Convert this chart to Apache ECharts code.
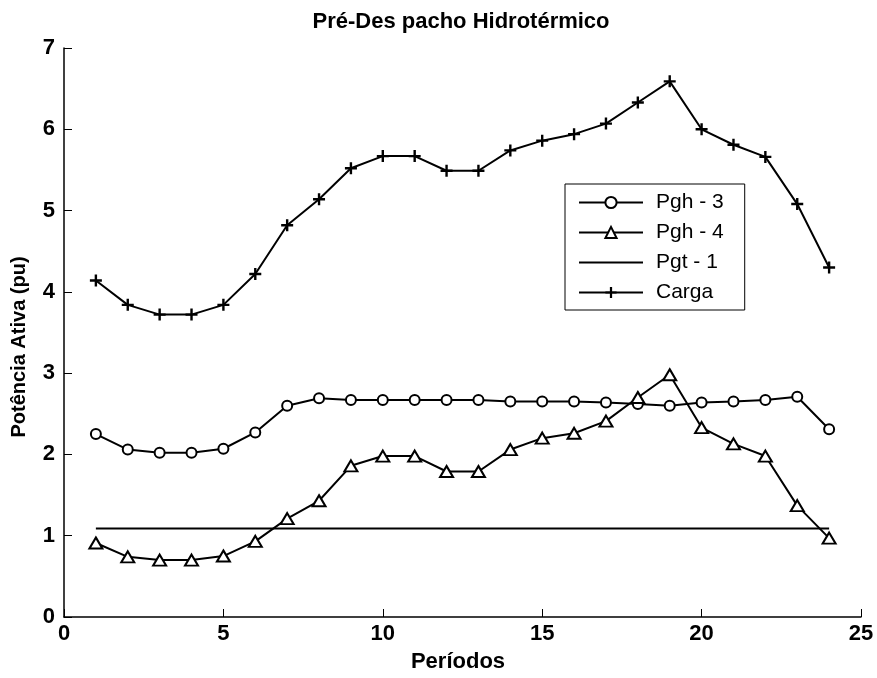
<!DOCTYPE html>
<html>
<head>
<meta charset="utf-8">
<script src="https://cdn.jsdelivr.net/npm/echarts@6/dist/echarts.min.js"></script>
<style>
  html, body { margin: 0; padding: 0; background: #fff; }
  #chart { width: 877px; height: 678px; }
</style>
</head>
<body>
<div id="chart"></div>
<script>
// Hourly dispatch periods
const periods = [1, 2, 3, 4, 5, 6, 7, 8, 9, 10, 11, 12, 13, 14, 15, 16, 17, 18, 19, 20, 21, 22, 23, 24];

// Active power per period (pu)
const pgh3 = [2.25, 2.06, 2.02, 2.02, 2.07, 2.27, 2.60, 2.69, 2.67, 2.67, 2.67, 2.67, 2.67, 2.65, 2.65, 2.65, 2.64, 2.62, 2.60, 2.64, 2.65, 2.67, 2.71, 2.31];
const pgh4 = [0.91, 0.74, 0.70, 0.70, 0.75, 0.93, 1.21, 1.43, 1.86, 1.98, 1.98, 1.79, 1.79, 2.06, 2.20, 2.26, 2.41, 2.70, 2.98, 2.33, 2.13, 1.98, 1.37, 0.97];
const pgt1 = [1.09, 1.09, 1.09, 1.09, 1.09, 1.09, 1.09, 1.09, 1.09, 1.09, 1.09, 1.09, 1.09, 1.09, 1.09, 1.09, 1.09, 1.09, 1.09, 1.09, 1.09, 1.09, 1.09, 1.09];
const carga = [4.14, 3.84, 3.72, 3.72, 3.84, 4.22, 4.82, 5.14, 5.52, 5.67, 5.67, 5.49, 5.49, 5.74, 5.86, 5.94, 6.07, 6.33, 6.59, 6.00, 5.81, 5.66, 5.08, 4.30];

const seriesNames = ['Pgh - 3', 'Pgh - 4', 'Pgt - 1', 'Carga'];
const titleText = 'Pré-Des pacho Hidrotérmico';
const xTitle = 'Períodos';
const yTitle = 'Potência Ativa (pu)';

const pairs = vals => periods.map((p, i) => [p, vals[i]]);

// filled cross used as the "+" marker
const plusPath = 'path://M4,0h2v4h4v2h-4v4h-2v-4h-4v-2h4z';
// plain line sample for the legend entry without markers
const linePath = 'path://M0,0h64v2h-64z';

const sans = "'Liberation Sans', Arial, sans-serif";

const chart = echarts.init(document.getElementById('chart'), null, { renderer: 'canvas' });

const lineBase = {
  type: 'line',
  showAllSymbol: true,
  lineStyle: { color: '#000', width: 2 },
  emphasis: { disabled: true },
  animation: false
};

chart.setOption({
  backgroundColor: '#fff',
  animation: false,
  grid: { left: 64, right: 16, top: 48, bottom: 61, containLabel: false },
  xAxis: {
    type: 'value',
    min: 0, max: 25, interval: 5,
    axisLine: { show: true, lineStyle: { color: '#000', width: 1.5 } },
    axisTick: { show: true, inside: true, length: 8, lineStyle: { color: '#000', width: 1 } },
    axisLabel: { color: '#000', fontFamily: sans, fontWeight: 'bold', fontSize: 22, margin: 6 },
    splitLine: { show: false }
  },
  yAxis: {
    type: 'value',
    min: 0, max: 7, interval: 1,
    axisLine: { show: true, lineStyle: { color: '#000', width: 1.5 } },
    axisTick: { show: true, inside: true, length: 8, lineStyle: { color: '#000', width: 1 } },
    axisLabel: { color: '#000', fontFamily: sans, fontWeight: 'bold', fontSize: 22, margin: 9 },
    splitLine: { show: false }
  },
  legend: {
    orient: 'vertical',
    left: 565, top: 184,
    padding: [8, 21, 7, 13],
    itemWidth: 64, itemHeight: 14, itemGap: 9,
    backgroundColor: '#fff',
    borderColor: '#000', borderWidth: 1,
    textStyle: { color: '#000', fontFamily: sans, fontSize: 21, lineHeight: 21, padding: [0, 0, 0, 8] },
    data: [
      { name: seriesNames[0] },
      { name: seriesNames[1] },
      { name: seriesNames[2], icon: linePath },
      { name: seriesNames[3] }
    ]
  },
  graphic: [
    { type: 'text', x: 461, y: 22, style: { text: titleText, align: 'center', verticalAlign: 'middle', font: "bold 22px 'Liberation Sans', Arial, sans-serif", fill: '#000' } },
    { type: 'text', x: 458, y: 662, style: { text: xTitle, align: 'center', verticalAlign: 'middle', font: "bold 22px 'Liberation Sans', Arial, sans-serif", fill: '#000' } },
    { type: 'text', x: 19, y: 347, rotation: Math.PI / 2, style: { text: yTitle, align: 'center', verticalAlign: 'middle', font: "bold 20px 'Liberation Sans', Arial, sans-serif", fill: '#000' } }
  ],
  series: [
    Object.assign({}, lineBase, {
      name: seriesNames[0],
      data: pairs(pgh3),
      symbol: 'emptyCircle', symbolSize: 10,
      itemStyle: { color: '#000', borderColor: '#000', borderWidth: 1.5 }
    }),
    Object.assign({}, lineBase, {
      name: seriesNames[1],
      data: pairs(pgh4),
      symbol: 'emptyTriangle', symbolSize: [13, 11],
      itemStyle: { color: '#000', borderColor: '#000', borderWidth: 1.5 }
    }),
    Object.assign({}, lineBase, {
      name: seriesNames[2],
      data: pairs(pgt1),
      symbol: 'none',
      itemStyle: { color: '#000' }
    }),
    Object.assign({}, lineBase, {
      name: seriesNames[3],
      data: pairs(carga),
      symbol: plusPath, symbolSize: 12,
      itemStyle: { color: '#000', borderWidth: 0 }
    })
  ]
});
</script>
</body>
</html>
